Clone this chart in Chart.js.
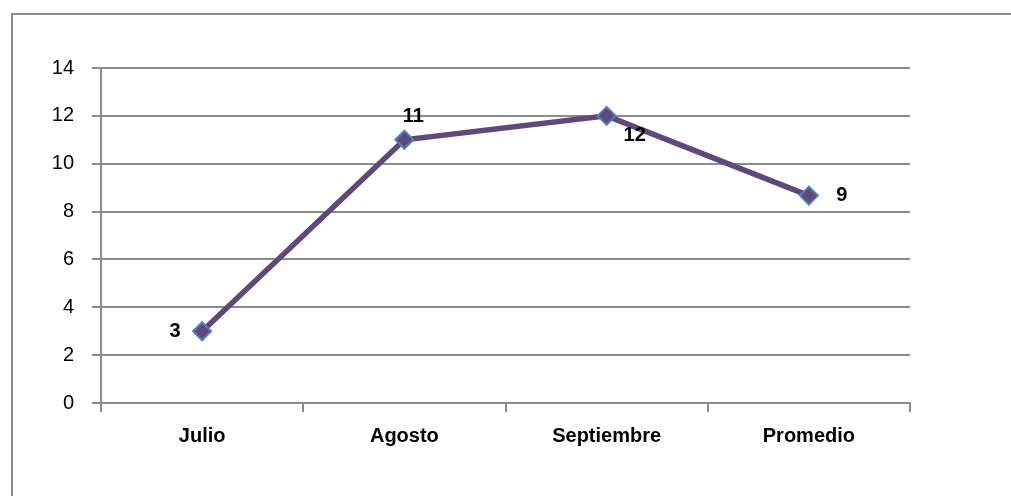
<!DOCTYPE html>
<html>
<head>
<meta charset="utf-8">
<script src="https://cdn.jsdelivr.net/npm/chart.js@4"></script>
<style>
  html, body { margin: 0; padding: 0; background: #fff; overflow: hidden; }
  #frame { position: absolute; left: 11px; top: 13px; width: 1100px; height: 600px; border-left: 2px solid #8c8c8c; border-top: 2px solid #8c8c8c; }
  #wrap { position: absolute; left: 0; top: 0; width: 1011px; height: 496px; }
</style>
</head>
<body>
<div id="frame"></div>
<div id="wrap"><canvas id="chart"></canvas></div>
<script>
// datos del grafico
const categorias = ['Julio', 'Agosto', 'Septiembre', 'Promedio'];
const valores = [3, 11, 12, 26 / 3];
const etiquetas = ['3', '11', '12', '9'];
const ticksY = [0, 2, 4, 6, 8, 10, 12, 14];

const gris = '#8c8c8c';
const morado = '#5f497a';
const fuente = '"Liberation Sans", "DejaVu Sans", sans-serif';

// posicion de cada etiqueta respecto al punto (dx, dy)
const desplazamientos = [[-27, 0], [9, -23], [28, 20], [33, 0]];

const etiquetasPlugin = {
    id: 'etiquetasDatos',
    afterDatasetsDraw(chart) {
        const ctx = chart.ctx;
        const meta = chart.getDatasetMeta(0);
        ctx.save();
        ctx.font = 'bold 20px ' + fuente;
        ctx.fillStyle = '#000';
        ctx.textAlign = 'center';
        ctx.textBaseline = 'middle';
        meta.data.forEach((pt, i) => {
            const d = desplazamientos[i];
            ctx.fillText(etiquetas[i], pt.x + d[0], pt.y + d[1]);
        });
        ctx.restore();
    }
};

new Chart(document.getElementById('chart'), {
    type: 'line',
    data: {
        labels: categorias,
        datasets: [{
            data: valores,
            borderColor: morado,
            borderWidth: 5.5,
            backgroundColor: morado,
            pointStyle: 'rectRot',
            pointRadius: 9,
            pointBorderColor: '#4f81bd',
            pointBorderWidth: 2,
            pointBackgroundColor: morado,
            tension: 0
        }]
    },
    options: {
        responsive: true,
        maintainAspectRatio: false,
        animation: false,
        layout: { padding: { left: 0, right: 101, top: 68, bottom: 0 } },
        plugins: { legend: { display: false }, tooltip: { enabled: false } },
        scales: {
            x: {
                offset: true,
                grid: { offset: true, drawOnChartArea: false, drawTicks: true, tickLength: 9, color: gris, lineWidth: 2 },
                border: { display: true, color: gris, width: 2 },
                ticks: {
                    color: '#000',
                    padding: 12,
                    font: { family: fuente, size: 20, weight: 'bold' }
                },
                afterFit(scale) { scale.height = 93; }
            },
            y: {
                min: 0,
                max: 14,
                afterBuildTicks(scale) { scale.ticks = ticksY.map(v => ({ value: v })); },
                grid: { color: gris, lineWidth: 2, drawTicks: true, tickLength: 9 },
                border: { display: true, color: gris, width: 2 },
                ticks: {
                    color: '#000',
                    padding: 18,
                    font: { family: fuente, size: 20 }
                },
                afterFit(scale) { scale.width = 101; }
            }
        }
    },
    plugins: [etiquetasPlugin]
});
</script>
</body>
</html>
